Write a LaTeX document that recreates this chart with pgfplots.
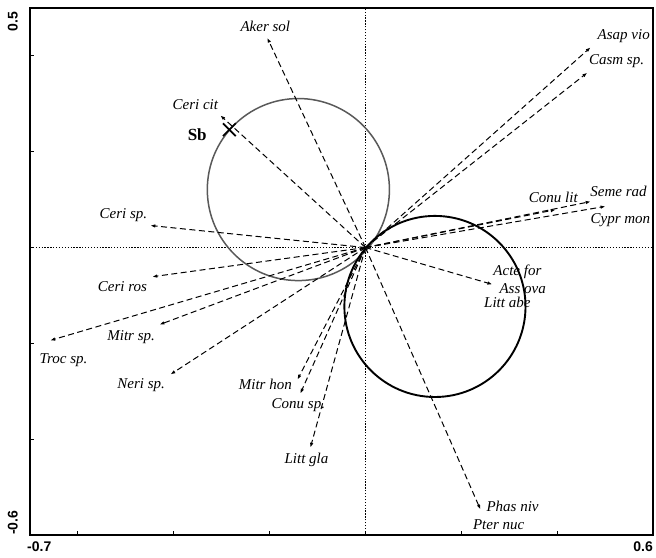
\documentclass[border=0pt]{standalone}
\usepackage{pgfplots}
\pgfplotsset{compat=1.18}
\usepackage{fontspec}
\setmainfont{Liberation Serif}
\newfontfamily\tickfont{Liberation Sans}
\usetikzlibrary{arrows.meta}
\tikzset{
  arr/.style={black, line width=1bp, dash pattern=on 6bp off 3.5bp, -{Latex[length=5bp,width=3.5bp]}},
  lab/.style={font=\fontsize{15bp}{17bp}\selectfont\itshape, inner sep=0pt},
  tl/.style={font=\fontsize{14bp}{16bp}\selectfont\tickfont\bfseries, inner sep=0pt},
  dots/.style={black, line width=1.4bp, dash pattern=on 1.3bp off 1.6bp},
}
\begin{document}
\begin{tikzpicture}
\begin{axis}[
  scale only axis, width=623bp, height=527bp,
  xmin=-0.7, xmax=0.6, ymin=-0.6, ymax=0.5,
  xtick={-0.6,-0.4,-0.2,0,0.2,0.4}, ytick={-0.4,-0.2,0,0.2,0.4},
  xticklabels={}, yticklabels={},
  tick pos=left, tick align=inside, major tick length=4bp,
  axis line style={line width=1.4bp},
  tick style={line width=1bp, black},
  clip=false,
]
% reference lines
\addplot[dots] coordinates {(0,-0.6) (0,0.5)};
\addplot[dots] coordinates {(-0.7,0) (0.6,0)};
% circles
\draw[black!65, line width=1.5bp] (axis cs:-0.14,0.121) circle [radius=0.19];
\draw[black, line width=1.9bp] (axis cs:0.145,-0.123) circle [radius=0.189];
% species arrows
\addplot[arr] coordinates {(0,0) (-0.205,0.438)};  % Aker sol
\addplot[arr] coordinates {(0,0) (-0.303,0.276)};  % Ceri cit
\addplot[arr] coordinates {(0,0) (-0.449,0.046)};  % Ceri sp.
\addplot[arr] coordinates {(0,0) (-0.445,-0.061)}; % Ceri ros
\addplot[arr] coordinates {(0,0) (-0.658,-0.194)}; % Troc sp.
\addplot[arr] coordinates {(0,0) (-0.430,-0.161)}; % Mitr sp.
\addplot[arr] coordinates {(0,0) (-0.407,-0.265)}; % Neri sp.
\addplot[arr] coordinates {(0,0) (-0.142,-0.276)}; % Mitr hon
\addplot[arr] coordinates {(0,0) (-0.136,-0.305)}; % Conu sp.
\addplot[arr] coordinates {(0,0) (-0.115,-0.418)}; % Litt gla
\addplot[arr] coordinates {(0,0) (0.240,-0.547)};  % Phas niv / Pter nuc
\addplot[arr] coordinates {(0,0) (0.265,-0.077)};  % Acte for / Ass ova / Litt abe
\addplot[arr] coordinates {(0,0) (0.470,0.418)};   % Asap vio
\addplot[arr] coordinates {(0,0) (0.463,0.365)};   % Casm sp.
\addplot[arr] coordinates {(0,0) (0.397,0.079)};   % Conu lit
\addplot[arr] coordinates {(0,0) (0.470,0.096)};   % Seme rad
\addplot[arr] coordinates {(0,0) (0.501,0.086)};   % Cypr mon
% Sb marker
\addplot[only marks, mark=x, mark size=9bp, mark options={line width=1.7bp, black}] coordinates {(-0.284,0.246)};
% labels
\node[lab] at (axis cs:-0.209,0.461) {Aker sol};
\node[lab] at (axis cs:-0.355,0.299) {Ceri cit};
\node[inner sep=0pt, font=\fontsize{17bp}{19bp}\selectfont\bfseries] at (axis cs:-0.351,0.236) {Sb};
\node[lab] at (axis cs:-0.505,0.067) {Ceri sp.};
\node[lab] at (axis cs:-0.507,-0.081) {Ceri ros};
\node[lab] at (axis cs:-0.630,-0.236) {Troc sp.};
\node[lab] at (axis cs:-0.489,-0.186) {Mitr sp.};
\node[lab] at (axis cs:-0.468,-0.288) {Neri sp.};
\node[lab] at (axis cs:-0.209,-0.286) {Mitr hon};
\node[lab] at (axis cs:-0.140,-0.330) {Conu sp.};
\node[lab] at (axis cs:-0.123,-0.443) {Litt gla};
\node[lab] at (axis cs:0.307,-0.541) {Phas niv};
\node[lab] at (axis cs:0.278,-0.578) {Pter nuc};
\node[lab] at (axis cs:0.317,-0.050) {Acte for};
\node[lab] at (axis cs:0.328,-0.086) {Ass ova};
\node[lab] at (axis cs:0.296,-0.115) {Litt abe};
\node[lab] at (axis cs:0.539,0.441) {Asap vio};
\node[lab] at (axis cs:0.524,0.390) {Casm sp.};
\node[lab] at (axis cs:0.392,0.104) {Conu lit};
\node[lab] at (axis cs:0.528,0.117) {Seme rad};
\node[lab] at (axis cs:0.532,0.058) {Cypr mon};
% tick labels
\node[tl, anchor=north west] at ([shift={(-3bp,-7bp)}]axis cs:-0.7,-0.6) {-0.7};
\node[tl, anchor=north east] at ([shift={(0bp,-7bp)}]axis cs:0.6,-0.6) {0.6};
\node[tl, rotate=90, anchor=south east] at ([shift={(-12bp,-4bp)}]axis cs:-0.7,0.5) {0.5};
\node[tl, rotate=90, anchor=south west] at ([shift={(-12bp,0bp)}]axis cs:-0.7,-0.6) {-0.6};
\end{axis}
\pgfresetboundingbox
\path ([shift={(-30bp,-23bp)}]current axis.south west) rectangle ([shift={(3bp,8bp)}]current axis.north east);
\end{tikzpicture}
\end{document}
